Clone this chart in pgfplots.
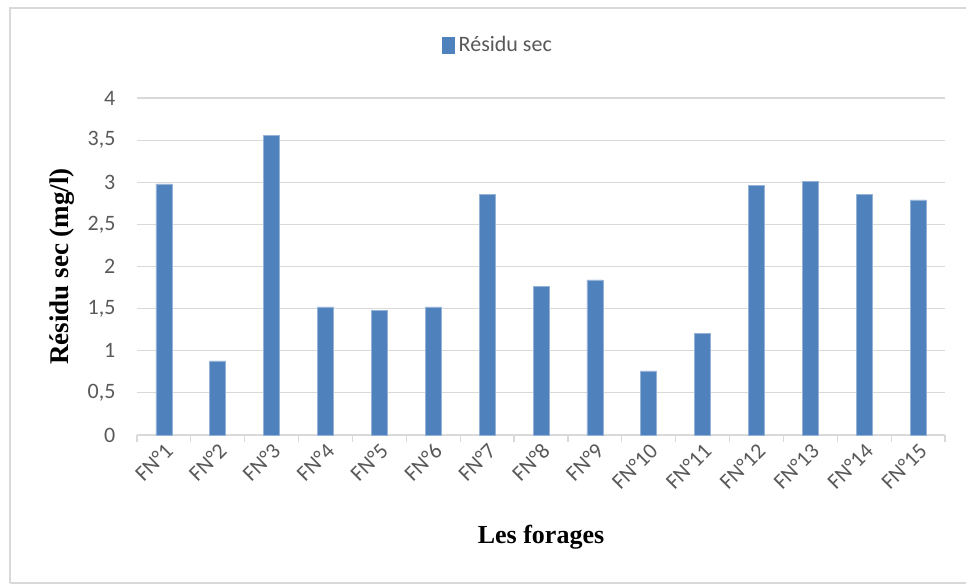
\documentclass[border=0pt]{standalone}
\usepackage{pgfplots}
\pgfplotsset{compat=1.18}
\usepackage{fontspec}
\setmainfont{Carlito}
\newfontfamily\serifb{Liberation Serif}
\definecolor{barblue}{HTML}{4F81BD}
\definecolor{txtgray}{HTML}{595959}
\definecolor{gridgray}{HTML}{D9D9D9}
\begin{document}
\begin{tikzpicture}
\path (0pt,0pt) rectangle (485.5pt,293pt);
\draw[gridgray, line width=0.6pt] (5pt,1.5pt) -- (5pt,289pt) -- (483pt,289pt);
\draw[gridgray, line width=0.6pt] (5pt,1.5pt) -- (483pt,1.5pt);
\begin{axis}[
  at={(68.5pt,75.5pt)}, anchor=south west,
  scale only axis,
  width=404pt, height=168.5pt,
  xmin=0.5, xmax=15.5,
  ymin=0, ymax=4,
  ytick={0,0.5,...,4},
  yticklabel style={/pgf/number format/.cd, use comma, fixed, /tikz/.cd, font=\fontsize{11}{13}\selectfont, text=txtgray, xshift=-3pt},
  /pgf/number format/assume math mode=true,
  xtick={1,...,15},
  xticklabels={FN°1,FN°2,FN°3,FN°4,FN°5,FN°6,FN°7,FN°8,FN°9,FN°10,FN°11,FN°12,FN°13,FN°14,FN°15},
  xticklabel style={rotate=45, anchor=east, font=\fontsize{11}{13}\selectfont, text=txtgray, xshift=4pt, yshift=-3pt},
  major x tick style={draw=none},
  minor xtick={0.5,1.5,...,15.5},
  minor x tick style={gridgray, line width=0.6pt},
  minor tick length=3.5pt,
  tick align=outside,
  xtick pos=bottom,
  ytick pos=left,
  major y tick style={draw=none},
  ymajorgrids,
  grid style={gridgray, line width=0.6pt},
  axis x line*=bottom,
  axis y line*=left,
  x axis line style={gridgray, line width=0.6pt, -},
  y axis line style={draw=none},
  ylabel={\serifb\bfseries Résidu sec (mg/l)},
  ylabel style={at={(rel axis cs:0,0.5)}, anchor=center, rotate=0, yshift=37.5pt, font=\fontsize{13.5}{15}\selectfont},
  xlabel={\serifb\bfseries Les forages},
  xlabel style={at={(rel axis cs:0.5,0)}, anchor=center, yshift=-51pt, font=\fontsize{13}{15}\selectfont},
  legend style={at={(rel axis cs:0.448,1)}, anchor=center, yshift=26.5pt, draw=none, font=\fontsize{11}{13}\selectfont, text=txtgray},
  ybar, bar width=8pt,
]
\addplot[fill=barblue, draw=barblue!60!white, line width=0.3pt,
  legend image code/.code={\fill[barblue] (-4pt,-4pt) rectangle (2pt,4pt);}] coordinates {
(1,2.98) (2,0.88) (3,3.56) (4,1.52) (5,1.48) (6,1.52) (7,2.86) (8,1.76)
(9,1.84) (10,0.76) (11,1.21) (12,2.96) (13,3.01) (14,2.86) (15,2.79)};
\addlegendentry{Résidu sec}
\end{axis}
\end{tikzpicture}
\end{document}
